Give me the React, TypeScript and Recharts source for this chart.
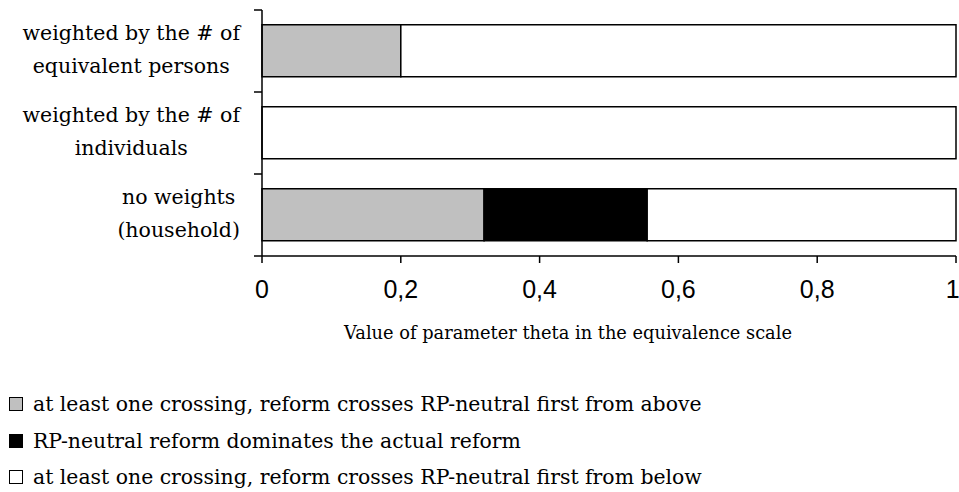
import { BarChart, Bar, XAxis, YAxis, Legend } from 'recharts';

const categories = [
    'weighted by the # of\nequivalent persons',
    'weighted by the # of\nindividuals',
    'no weights\n(household)',
];
const fromAbove = [0.2, 0, 0.32];
const dominates = [0, 0, 0.235];
const fromBelow = [0.8, 1, 0.445];
const xTicks = [0, 0.2, 0.4, 0.6, 0.8, 1];

const seriesKeys = ['above', 'dominates', 'below'];
const seriesNames = [
    'at least one crossing, reform crosses RP-neutral first from above',
    'RP-neutral reform dominates the actual reform',
    'at least one crossing, reform crosses RP-neutral first from below',
];
const seriesColors = ['#c0c0c0', '#000000', '#ffffff'];

const data = categories.map((name, i) => ({
    name,
    above: fromAbove[i],
    dominates: dominates[i],
    below: fromBelow[i],
}));

const SERIF = '"DejaVu Serif", serif';
const SANS = '"Liberation Sans Narrow", "Arial Narrow", "Liberation Sans", sans-serif';
const TICK_SIZE = 8;
const TICK_MARGIN = 14;
const CAT_FONT = 20.5;

let ctx: CanvasRenderingContext2D | null = null;
const measure = (text: string, font: string) => {
    if (!ctx) ctx = document.createElement('canvas').getContext('2d');
    if (!ctx) return text.length * 10;
    ctx.font = font;
    return ctx.measureText(text).width;
};

// category labels: lines centred in a block that is right-aligned to the axis
const CategoryTick = (props: any) => {
    const { x, y, payload, index } = props;
    const lines = String(payload.value).split('\n');
    const font = `${CAT_FONT}px ${SERIF}`;
    const blockW = Math.max(...lines.map((l) => measure(l, font)));
    const cx = x - blockW / 2;
    const axisX = x + TICK_MARGIN + TICK_SIZE;
    const half = payload.offset || 0;
    return (
        <g>
            <line x1={axisX - TICK_SIZE} x2={axisX} y1={y - half} y2={y - half} stroke="#000" strokeWidth={1.5} />
            {index === categories.length - 1 && (
                <line x1={axisX - TICK_SIZE} x2={axisX} y1={y + half} y2={y + half} stroke="#000" strokeWidth={1.5} />
            )}
            {lines.map((l, i) => (
                <text key={i} x={cx} y={y - 11 + i * 33} textAnchor="middle" fontFamily={SERIF} fontSize={CAT_FONT} fill="#000">
                    {l}
                </text>
            ))}
        </g>
    );
};

const LegendContent = () => (
    <div style={{ fontFamily: SERIF, fontSize: 20.4, color: '#000' }}>
        {seriesNames.map((n, i) => (
            <div key={n} style={{ display: 'flex', alignItems: 'center', height: 36.5 }}>
                <span style={{ display: 'inline-block', width: 12, height: 12, marginLeft: 9, marginRight: 10, background: seriesColors[i], border: '1px solid #000' }} />
                <span>{n}</span>
            </div>
        ))}
    </div>
);

export default function App() {
    return (
        <div style={{ position: 'absolute', left: 0, top: 0, background: '#fff' }}>
            <BarChart
                width={959}
                height={492}
                data={data}
                layout="vertical"
                barCategoryGap="18%"
                margin={{ top: 10, right: 3, left: 0, bottom: 0 }}
            >
                <XAxis
                    type="number"
                    domain={[0, 1]}
                    ticks={xTicks}
                    tickFormatter={(v: number) => String(v).replace('.', ',')}
                    height={236}
                    tickSize={7}
                    tickMargin={17}
                    axisLine={{ stroke: '#000', strokeWidth: 1.5 }}
                    tickLine={{ stroke: '#000', strokeWidth: 1.5 }}
                    tick={{ fill: '#000', fontFamily: SANS, fontSize: 25 }}
                    label={{
                        content: () => (
                            <text x={568} y={339} textAnchor="middle" fontFamily={SERIF} fontSize={17.8} fill="#000">
                                Value of parameter theta in the equivalence scale
                            </text>
                        ),
                    }}
                />
                <YAxis
                    type="category"
                    dataKey="name"
                    width={262}
                    tickSize={TICK_SIZE}
                    tickMargin={TICK_MARGIN}
                    tickLine={false}
                    axisLine={{ stroke: '#000', strokeWidth: 1.5 }}
                    tick={<CategoryTick />}
                    interval={0}
                />
                <Legend
                    layout="vertical"
                    align="center"
                    verticalAlign="middle"
                    wrapperStyle={{ left: 0, top: 386, width: 959 }}
                    content={<LegendContent />}
                />
                {seriesKeys.map((k, i) => (
                    <Bar
                        key={k}
                        dataKey={k}
                        name={seriesNames[i]}
                        stackId="a"
                        fill={seriesColors[i]}
                        stroke="#000"
                        strokeWidth={1.5}
                        isAnimationActive={false}
                    />
                ))}
            </BarChart>
        </div>
    );
}
